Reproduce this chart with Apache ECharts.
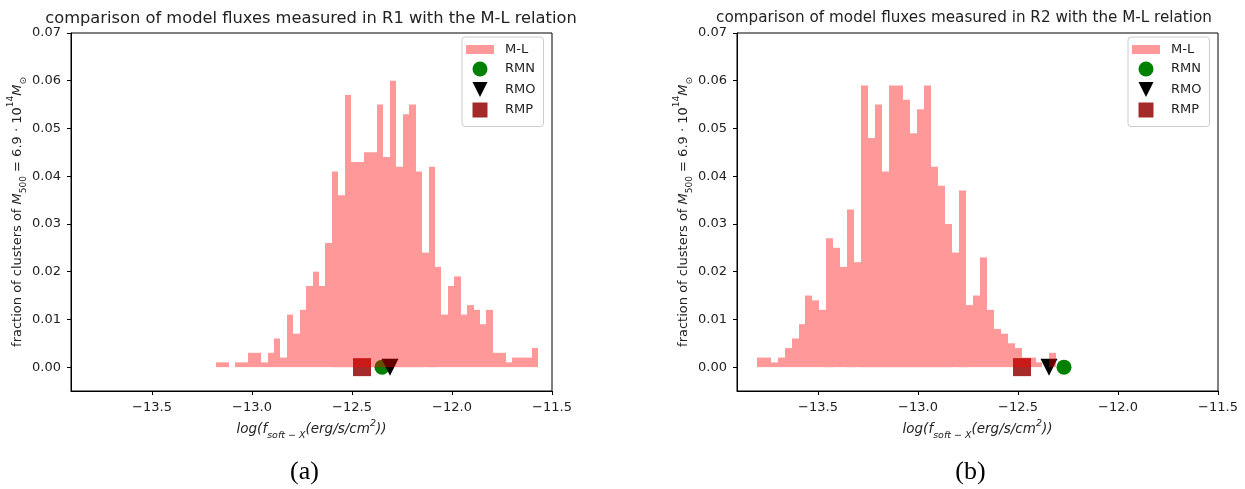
<!DOCTYPE html>
<html>
<head>
<meta charset="utf-8">
<script src="https://cdn.jsdelivr.net/npm/echarts@6/dist/echarts.min.js"></script>
<style>
  html, body { margin: 0; padding: 0; background: #ffffff; }
  #chart { width: 1245px; height: 489px; }
</style>
</head>
<body>
<div id="chart"></div>
<script>
// Histogram of M-L fluxes in region R1: first bin edge, bin width, fraction per bin
const r1BinStart = -13.18;
const r1BinWidth = 0.0322;
const r1Fractions = [
  0.001, 0.001, 0.000, 0.001, 0.001, 0.003, 0.003, 0.001, 0.003, 0.006,
  0.002, 0.011, 0.007, 0.012, 0.017, 0.020, 0.017, 0.026, 0.041, 0.036,
  0.057, 0.043, 0.043, 0.045, 0.045, 0.055, 0.044, 0.060, 0.042, 0.053,
  0.055, 0.041, 0.024, 0.042, 0.021, 0.011, 0.017, 0.019, 0.011, 0.013,
  0.012, 0.009, 0.012, 0.003, 0.003, 0.001, 0.002, 0.002, 0.002, 0.004
];

// Histogram of M-L fluxes in region R2
const r2BinStart = -13.8065;
const r2BinWidth = 0.03485;
const r2Fractions = [
  0.002, 0.002, 0.001, 0.002, 0.004, 0.006, 0.009, 0.015, 0.014, 0.012,
  0.027, 0.025, 0.021, 0.033, 0.022, 0.059, 0.048, 0.055, 0.041, 0.059,
  0.059, 0.056, 0.049, 0.054, 0.059, 0.042, 0.038, 0.030, 0.024, 0.037,
  0.013, 0.015, 0.023, 0.012, 0.008, 0.007, 0.005, 0.004, 0.002, 0.002,
  0.001, 0.000, 0.003
];

// Model fluxes (log) for each region
const r1Models = { RMN: -12.35, RMO: -12.31, RMP: -12.45 };
const r2Models = { RMN: -12.27, RMO: -12.345, RMP: -12.48 };

// Axis ticks
const xTicks = [-13.5, -13.0, -12.5, -12.0, -11.5];
const yTicks = [0.00, 0.01, 0.02, 0.03, 0.04, 0.05, 0.06, 0.07];
const xRange = [-13.905, -11.5];
const yRange = [-0.005, 0.07];

const titles = [
  'comparison of model fluxes measured in R1 with the M-L relation',
  'comparison of model fluxes measured in R2 with the M-L relation'
];
const panelLabels = ['(a)', '(b)'];

const FONT = 'DejaVu Sans';
const HIST_COLOR = 'rgba(255,0,0,0.4)';

function binsOf(start, width, fractions) {
  return fractions.map((f, i) => [start + i * width, start + (i + 1) * width, f]);
}

// one rectangle per bin, edges snapped to whole pixels so neighbours meet cleanly
function histRender(params, api) {
  const p0 = api.coord([api.value(0), api.value(2)]);
  const p1 = api.coord([api.value(1), 0]);
  const x0 = Math.round(p0[0]), x1 = Math.round(p1[0]);
  return {
    type: 'rect',
    shape: { x: x0, y: p0[1], width: x1 - x0, height: p1[1] - p0[1] },
    style: { fill: api.visual('color') }
  };
}

const grids = [
  { left: 71, top: 33, width: 481, height: 358 },
  { left: 737, top: 33, width: 481, height: 358 }
];

function fmtX(v) {
  return (v < 0 ? '\u2212' : '') + Math.abs(v).toFixed(1);
}

const axisNameRichX = {
  it: { fontFamily: FONT, fontStyle: 'italic', fontSize: 13.5, color: '#222', lineHeight: 22 },
  sub: { fontFamily: FONT, fontStyle: 'italic', fontSize: 9.5, color: '#222', verticalAlign: 'bottom', lineHeight: 13 },
  sup: { fontFamily: FONT, fontStyle: 'italic', fontSize: 9.5, color: '#222', verticalAlign: 'top', lineHeight: 13 }
};
const axisNameRichY = {
  n: { fontFamily: FONT, fontSize: 13, color: '#222', lineHeight: 22 },
  it: { fontFamily: FONT, fontStyle: 'italic', fontSize: 13, color: '#222', lineHeight: 22 },
  sub: { fontFamily: FONT, fontSize: 9, color: '#222', verticalAlign: 'bottom', lineHeight: 13 },
  sup: { fontFamily: FONT, fontSize: 9, color: '#222', verticalAlign: 'top', lineHeight: 13 }
};

const xName = '{it|log(f}{sub|soft \u2212 X}{it|(erg/s/cm}{sup|2}{it|))}';
const yName = '{n|fraction of clusters of }{it|M}{sub|500}{n| = 6.9 \u00b7 10}{sup|14}{it|M}{sub|\u2299}';

const xAxes = grids.map((g, i) => ({
  type: 'value', gridIndex: i, min: xRange[0], max: xRange[1],
  splitLine: { show: false },
  axisLine: { show: true, onZero: false, lineStyle: { color: '#000', width: 1 } },
  axisTick: { show: true, inside: false, length: 4, customValues: xTicks, lineStyle: { color: '#000' } },
  axisLabel: { customValues: xTicks, formatter: fmtX, fontFamily: FONT, fontSize: 13, color: '#222', margin: 10 },
  name: xName, nameLocation: 'middle', nameGap: 27,
  nameTextStyle: { rich: axisNameRichX }
}));

const yAxes = grids.map((g, i) => ({
  type: 'value', gridIndex: i, min: yRange[0], max: yRange[1],
  splitLine: { show: false },
  axisLine: { show: true, onZero: false, lineStyle: { color: '#000', width: 1 } },
  axisTick: { show: true, inside: false, length: 4, customValues: yTicks, lineStyle: { color: '#000' } },
  axisLabel: { customValues: yTicks, formatter: v => v.toFixed(2), fontFamily: FONT, fontSize: 13, color: '#222', margin: 10 },
  name: yName, nameLocation: 'middle', nameGap: 41, nameRotate: 90,
  nameTextStyle: { rich: axisNameRichY }
}));

function modelSeries(models, idx) {
  return [
    { name: 'RMN', type: 'scatter', xAxisIndex: idx, yAxisIndex: idx, symbol: 'circle', symbolSize: 15,
      itemStyle: { color: '#008000', opacity: 1 }, z: 2, data: [[models.RMN, 0]] },
    { name: 'RMO', type: 'scatter', xAxisIndex: idx, yAxisIndex: idx, symbol: 'triangle', symbolRotate: 180, symbolSize: 17,
      itemStyle: { color: '#000000', opacity: 1 }, z: 2, data: [[models.RMO, 0]] },
    { name: 'RMP', type: 'scatter', xAxisIndex: idx, yAxisIndex: idx, symbol: 'rect', symbolSize: 18,
      itemStyle: { color: '#a52a2a', opacity: 1 }, z: 2, data: [[models.RMP, 0]] }
  ];
}

const series = [
  { name: 'M-L', type: 'custom', xAxisIndex: 0, yAxisIndex: 0, renderItem: histRender,
    itemStyle: { color: HIST_COLOR }, encode: { x: [0, 1], y: 2 }, z: 3,
    data: binsOf(r1BinStart, r1BinWidth, r1Fractions) },
  ...modelSeries(r1Models, 0),
  { name: 'M-L', type: 'custom', xAxisIndex: 1, yAxisIndex: 1, renderItem: histRender,
    itemStyle: { color: HIST_COLOR }, encode: { x: [0, 1], y: 2 }, z: 3,
    data: binsOf(r2BinStart, r2BinWidth, r2Fractions) },
  ...modelSeries(r2Models, 1)
];

const legendIcons = {
  'M-L': 'path://M0,0L28,0L28,9L0,9Z',
  'RMN': 'circle',
  'RMO': 'path://M0,0L2,0L1,2Z',
  'RMP': 'path://M0,0L1,0L1,1L0,1Z'
};
const legendNames = ['M-L', 'RMN', 'RMO', 'RMP'];

const legends = [462, 1128].map(left => ({
  orient: 'vertical', left: left, top: 37,
  itemWidth: 28, itemHeight: 15, itemGap: 5.5,
  padding: [6, 8, 9, 4],
  borderColor: '#cccccc', borderWidth: 1, borderRadius: 3,
  backgroundColor: 'rgba(255,255,255,0.8)',
  selectedMode: false,
  data: legendNames.map(n => ({ name: n, icon: legendIcons[n] })),
  textStyle: { fontFamily: FONT, fontSize: 13, color: '#222', padding: [0, 0, 0, 6] }
}));

// title centres and sizes per panel
const titleCenters = [306, 959];
const titleSizes = [16.3, 15.2];

const option = {
  animation: false,
  backgroundColor: '#ffffff',
  title: titles.map((t, i) => ({
    text: t,
    left: titleCenters[i], top: 6, textAlign: 'center',
    textStyle: { fontFamily: FONT, fontSize: titleSizes[i], fontWeight: 'normal', color: '#222' }
  })),
  grid: grids.map(g => ({ ...g, show: true, borderColor: '#000', borderWidth: 1, backgroundColor: 'transparent' })),
  xAxis: xAxes,
  yAxis: yAxes,
  legend: legends,
  series: series,
  graphic: panelLabels.map((t, i) => ({
    type: 'text', x: grids[i].left + grids[i].width / 2 - 7, y: 472,
    style: { text: t, font: '26px "Liberation Serif"', fill: '#000', align: 'center', verticalAlign: 'middle' }
  }))
};

const chart = echarts.init(document.getElementById('chart'), null, { renderer: 'canvas' });
chart.setOption(option);
</script>
</body>
</html>
